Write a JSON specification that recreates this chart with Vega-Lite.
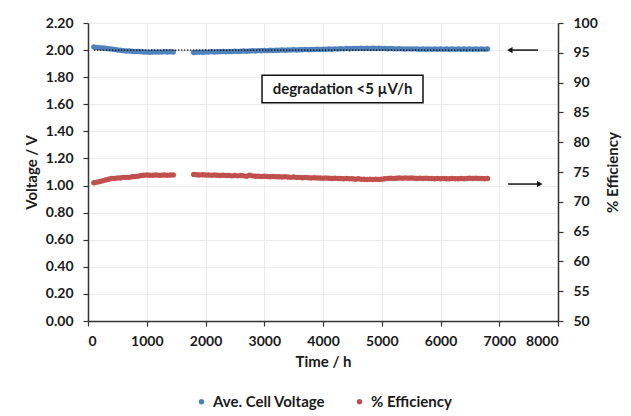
{
  "$schema": "https://vega.github.io/schema/vega-lite/v6.json",
  "width": 470,
  "height": 298,
  "padding": {"left": 24, "top": 16, "right": 5, "bottom": 5},
  "config": {
    "font": "Lato",
    "view": {"stroke": null},
    "axis": {
      "labelFont": "Lato", "labelFontWeight": "bold", "labelFontSize": 14, "labelColor": "#1a1a1a", "labelOverlap": false,
      "titleFont": "Lato", "titleFontWeight": "bold", "titleFontSize": 15, "titleColor": "#1a1a1a",
      "domainColor": "#333333", "domainWidth": 1.5, "tickColor": "#333333", "tickWidth": 1.2, "tickSize": 5,
      "gridColor": "#ececec", "gridWidth": 1
    }
  },
  "datasets": {
    "series": [
      {"t":100,"v":2.022,"e":73.2},{"t":150,"v":2.020,"e":73.3},{"t":200,"v":2.018,"e":73.4},{"t":250,"v":2.016,"e":73.55},
      {"t":300,"v":2.013,"e":73.65},{"t":350,"v":2.010,"e":73.8},{"t":400,"v":2.008,"e":73.9},{"t":450,"v":2.004,"e":73.9},
      {"t":500,"v":2.001,"e":74.0},{"t":550,"v":1.998,"e":74.0},{"t":600,"v":1.996,"e":74.1},{"t":650,"v":1.994,"e":74.1},
      {"t":700,"v":1.993,"e":74.1},{"t":750,"v":1.991,"e":74.2},{"t":800,"v":1.990,"e":74.25},{"t":850,"v":1.989,"e":74.3},
      {"t":900,"v":1.987,"e":74.4},{"t":950,"v":1.986,"e":74.45},{"t":1000,"v":1.985,"e":74.5},{"t":1050,"v":1.984,"e":74.45},
      {"t":1100,"v":1.986,"e":74.45},{"t":1150,"v":1.985,"e":74.5},{"t":1200,"v":1.986,"e":74.45},{"t":1250,"v":1.985,"e":74.45},
      {"t":1300,"v":1.987,"e":74.5},{"t":1350,"v":1.986,"e":74.45},{"t":1400,"v":1.987,"e":74.5},{"t":1450,"v":1.986,"e":74.5},
      {"t":1800,"v":1.983,"e":74.6},{"t":1850,"v":1.984,"e":74.55},{"t":1900,"v":1.985,"e":74.5},{"t":1950,"v":1.984,"e":74.55},
      {"t":2000,"v":1.986,"e":74.5},{"t":2050,"v":1.985,"e":74.5},{"t":2100,"v":1.987,"e":74.45},{"t":2150,"v":1.986,"e":74.5},
      {"t":2200,"v":1.988,"e":74.45},{"t":2250,"v":1.987,"e":74.4},{"t":2300,"v":1.989,"e":74.45},{"t":2350,"v":1.988,"e":74.4},
      {"t":2400,"v":1.990,"e":74.4},{"t":2450,"v":1.989,"e":74.35},{"t":2500,"v":1.991,"e":74.4},{"t":2550,"v":1.990,"e":74.35},
      {"t":2600,"v":1.992,"e":74.4},{"t":2650,"v":1.993,"e":74.35},{"t":2700,"v":1.992,"e":74.3},{"t":2750,"v":1.994,"e":74.45},
      {"t":2800,"v":1.995,"e":74.35},{"t":2850,"v":1.994,"e":74.3},{"t":2900,"v":1.996,"e":74.3},{"t":2950,"v":1.995,"e":74.25},
      {"t":3000,"v":1.997,"e":74.3},{"t":3050,"v":1.996,"e":74.25},{"t":3100,"v":1.998,"e":74.2},{"t":3150,"v":1.997,"e":74.25},
      {"t":3200,"v":1.999,"e":74.2},{"t":3250,"v":1.998,"e":74.2},{"t":3300,"v":2.000,"e":74.15},{"t":3350,"v":1.999,"e":74.2},
      {"t":3400,"v":2.001,"e":74.15},{"t":3450,"v":2.000,"e":74.1},{"t":3500,"v":2.002,"e":74.15},{"t":3550,"v":2.001,"e":74.1},
      {"t":3600,"v":2.003,"e":74.1},{"t":3650,"v":2.002,"e":74.05},{"t":3700,"v":2.004,"e":74.1},{"t":3750,"v":2.003,"e":74.05},
      {"t":3800,"v":2.005,"e":74.0},{"t":3850,"v":2.004,"e":74.05},{"t":3900,"v":2.006,"e":74.0},{"t":3950,"v":2.005,"e":74.0},
      {"t":4000,"v":2.007,"e":73.95},{"t":4050,"v":2.006,"e":74.0},{"t":4100,"v":2.008,"e":73.95},{"t":4150,"v":2.007,"e":73.9},
      {"t":4200,"v":2.009,"e":73.95},{"t":4250,"v":2.008,"e":73.9},{"t":4300,"v":2.010,"e":73.9},{"t":4350,"v":2.009,"e":73.85},
      {"t":4400,"v":2.011,"e":73.9},{"t":4450,"v":2.010,"e":73.85},{"t":4500,"v":2.012,"e":73.85},{"t":4550,"v":2.011,"e":73.8},
      {"t":4600,"v":2.012,"e":73.85},{"t":4650,"v":2.013,"e":73.8},{"t":4700,"v":2.012,"e":73.8},{"t":4750,"v":2.013,"e":73.75},
      {"t":4800,"v":2.012,"e":73.8},{"t":4850,"v":2.013,"e":73.75},{"t":4900,"v":2.012,"e":73.8},{"t":4950,"v":2.013,"e":73.75},
      {"t":5000,"v":2.011,"e":73.8},{"t":5050,"v":2.012,"e":73.85},{"t":5100,"v":2.010,"e":73.9},{"t":5150,"v":2.011,"e":73.95},
      {"t":5200,"v":2.010,"e":73.9},{"t":5250,"v":2.009,"e":73.95},{"t":5300,"v":2.010,"e":74.0},{"t":5350,"v":2.009,"e":73.95},
      {"t":5400,"v":2.008,"e":74.0},{"t":5450,"v":2.009,"e":73.95},{"t":5500,"v":2.008,"e":74.0},{"t":5550,"v":2.009,"e":73.95},
      {"t":5600,"v":2.008,"e":73.9},{"t":5650,"v":2.007,"e":73.95},{"t":5700,"v":2.008,"e":73.9},{"t":5750,"v":2.007,"e":73.95},
      {"t":5800,"v":2.008,"e":73.9},{"t":5850,"v":2.007,"e":73.9},{"t":5900,"v":2.008,"e":73.85},{"t":5950,"v":2.007,"e":73.9},
      {"t":6000,"v":2.008,"e":73.85},{"t":6050,"v":2.007,"e":73.9},{"t":6100,"v":2.008,"e":73.85},{"t":6150,"v":2.007,"e":73.85},
      {"t":6200,"v":2.008,"e":73.9},{"t":6250,"v":2.007,"e":73.85},{"t":6300,"v":2.008,"e":73.85},{"t":6350,"v":2.007,"e":73.9},
      {"t":6400,"v":2.008,"e":73.85},{"t":6450,"v":2.007,"e":73.9},{"t":6500,"v":2.008,"e":73.95},{"t":6550,"v":2.007,"e":73.9},
      {"t":6600,"v":2.008,"e":73.95},{"t":6650,"v":2.007,"e":73.9},{"t":6700,"v":2.008,"e":73.9},{"t":6750,"v":2.007,"e":73.85},
      {"t":6800,"v":2.008,"e":73.9}
    ],
    "trend": [{"t": 100, "v": 2.0}, {"t": 6800, "v": 2.0}],
    "arrows": [
      {"x1": 7180, "x2": 7660, "y": 2.0, "head": 7180, "dir": "left"},
      {"x1": 7150, "x2": 7690, "y": 1.011, "head": 7690, "dir": "right"}
    ],
    "note": [{"x1": 2962, "x2": 5702, "y1": 1.611, "y2": 1.815, "xc": 4332, "yc": 1.713, "label": "degradation <5 µV/h"}]
  },
  "layer": [
    {
      "encoding": {
        "x": {"type": "quantitative", "scale": {"domain": [0, 8000], "nice": false},
              "axis": {"title": "Time / h", "values": [0,1000,2000,3000,4000,5000,6000,7000,8000], "format": "d", "labelPadding": 8, "titlePadding": 6, "labelOverlap": false}},
        "y": {"type": "quantitative", "scale": {"domain": [0, 2.2], "nice": false},
              "axis": {"title": "Voltage / V", "values": [0,0.2,0.4,0.6,0.8,1.0,1.2,1.4,1.6,1.8,2.0,2.2], "format": ".2f", "labelPadding": 10, "titlePadding": 6, "labelOverlap": false}}
      },
      "layer": [
        {
          "data": {"name": "series"},
          "mark": {"type": "point", "filled": true, "size": 30, "opacity": 1},
          "encoding": {
            "x": {"field": "t"},
            "y": {"field": "v"},
            "color": {"datum": "Ave. Cell Voltage", "type": "nominal",
                      "scale": {"domain": ["Ave. Cell Voltage", "% Efficiency"], "range": ["#4f81bd", "#c0504d"]},
                      "legend": {"title": null, "orient": "none", "direction": "horizontal", "legendX": 106, "legendY": 371,
                                 "symbolType": "circle", "symbolSize": 30, "labelFont": "Lato", "labelFontWeight": "bold", "labelFontSize": 15, "labelColor": "#1a1a1a", "columnPadding": 26}}
          }
        },
        {
          "data": {"name": "trend"},
          "mark": {"type": "line", "color": "#111111", "strokeWidth": 1.4, "strokeDash": [1.5, 1.5]},
          "encoding": {
            "x": {"field": "t"},
            "y": {"field": "v"}
          }
        },
        {
          "data": {"name": "arrows"},
          "mark": {"type": "rule", "color": "#111111", "strokeWidth": 1.5},
          "encoding": {
            "x": {"field": "x1"},
            "x2": {"field": "x2"},
            "y": {"field": "y"}
          }
        },
        {
          "data": {"name": "arrows"},
          "mark": {"type": "point", "filled": true, "size": 40, "color": "#111111", "opacity": 1},
          "encoding": {
            "x": {"field": "head"},
            "y": {"field": "y"},
            "shape": {"field": "dir", "type": "nominal", "scale": {"domain": ["left", "right"], "range": ["triangle-left", "triangle-right"]}, "legend": null}
          }
        },
        {
          "data": {"name": "note"},
          "mark": {"type": "rect", "fill": "white", "stroke": "#111111", "strokeWidth": 1.5},
          "encoding": {
            "x": {"field": "x1"},
            "x2": {"field": "x2"},
            "y": {"field": "y1"},
            "y2": {"field": "y2"}
          }
        },
        {
          "data": {"name": "note"},
          "mark": {"type": "text", "font": "Lato", "fontWeight": "bold", "fontSize": 15, "color": "#1a1a1a", "align": "center", "baseline": "middle"},
          "encoding": {
            "x": {"field": "xc"},
            "y": {"field": "yc"},
            "text": {"field": "label"}
          }
        }
      ]
    },
    {
      "data": {"name": "series"},
      "mark": {"type": "point", "filled": true, "size": 30, "opacity": 1},
      "encoding": {
        "x": {"field": "t", "type": "quantitative"},
        "y": {"field": "e", "type": "quantitative", "scale": {"domain": [50, 100], "nice": false},
              "axis": {"orient": "right", "title": "% Efficiency", "values": [50,55,60,65,70,75,80,85,90,95,100], "grid": false, "labelPadding": 10, "titlePadding": 23, "titleAngle": -90, "labelOverlap": false}},
        "color": {"datum": "% Efficiency", "type": "nominal"}
      }
    }
  ],
  "resolve": {"scale": {"y": "independent"}, "axis": {"y": "independent"}}
}
